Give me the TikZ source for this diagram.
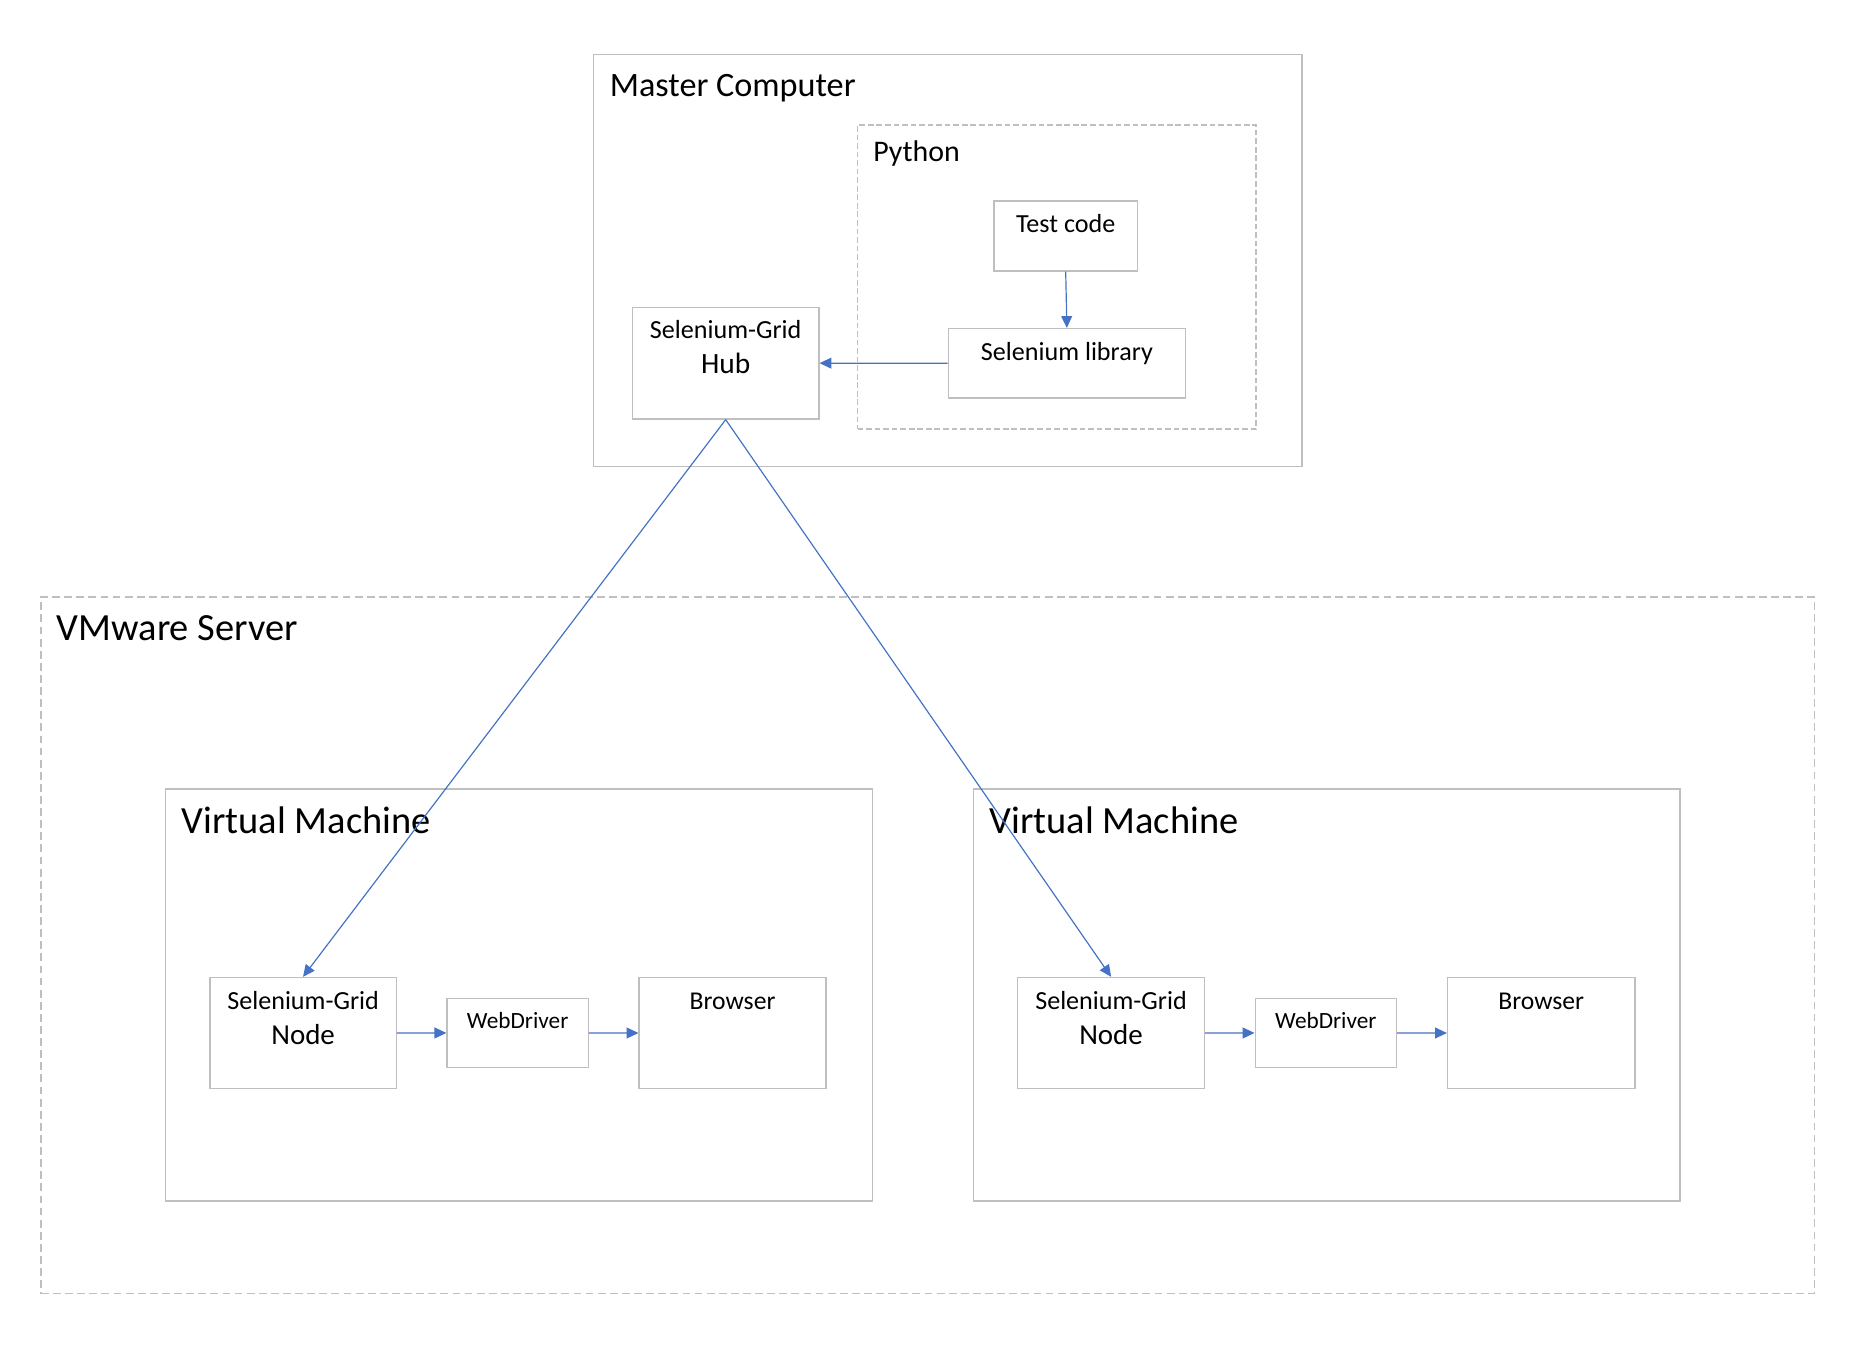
\documentclass[tikz,border=0pt]{standalone}
\usepackage{fontspec}
\setmainfont{Carlito}
\usetikzlibrary{arrows.meta,fit}
\definecolor{boxgray}{HTML}{BFBFBF}
\definecolor{linkblue}{HTML}{4472C4}
\newcommand\fsz[1]{\fontsize{#1pt}{#1pt}\selectfont}
\begin{document}
\begin{tikzpicture}[x=0.5pt,y=-0.5pt,
  frame/.style={draw=boxgray, line width=0.6pt, inner sep=0pt},
  dframe/.style={frame, dash pattern=on 3.3pt off 1.8pt},
  pframe/.style={frame, dash pattern=on 2.4pt off 1.2pt},
  link/.style={draw=linkblue, line width=0.5pt, -{Triangle[length=5pt,width=4.6pt]}},
  title/.style={anchor=base west, inner sep=0pt},
  lbl/.style={anchor=base, inner sep=0pt}]
\useasboundingbox (0,0) rectangle (1569,1135);
% containers
\node[frame, fit={(500,46)(1097,393)}] (master) {};
\node[pframe, fit={(722.6,105.3)(1058.5,361.4)}] (python) {};
\node[dframe, fit={(34.5,503.2)(1529,1090)}] (vmware) {};
\node[frame, fit={(139.6,664.7)(735,1012)}] (vm1) {};
\node[frame, fit={(820.5,664.7)(1415.8,1012)}] (vm2) {};
% titles
\node[title, font=\fsz{14.4}] (tmaster) at (513.5,80.9) {Master Computer};
\node[title, font=\fsz{12.6}] (tpython) at (735.5,136.2) {Python};
\node[title, font=\fsz{16.2}] (tvmware) at (47.5,539.7) {VMware Server};
\node[title, font=\fsz{16.2}] (tvm1) at (152.8,702.6) {Virtual Machine};
\node[title, font=\fsz{16.2}] (tvm2) at (833.5,702.6) {Virtual Machine};
% master boxes
\node[frame, fit={(837.5,169.3)(958.5,228.3)}] (testcode) {};
\node[frame, fit={(799,277)(999,335.3)}] (sellib) {};
\node[frame, fit={(533,259)(690,353)}] (hub) {};
\node[lbl, font=\fsz{11}] (ttestcode) at (898,196) {Test code};
\node[lbl, font=\fsz{11}] (tsellib) at (899,303.9) {Selenium library};
\node[lbl, font=\fsz{11}] (thub1) at (611.5,285.3) {Selenium-Grid};
\node[lbl, font=\fsz{12.4}] (thub2) at (611.5,315.1) {Hub};
% VM 1
\node[frame, fit={(176.8,823.7)(333.9,917.2)}] (node1) {};
\node[frame, fit={(376.7,841.3)(495.7,899.5)}] (wd1) {};
\node[frame, fit={(538.6,823.7)(695.9,917.2)}] (br1) {};
\node[lbl, font=\fsz{11}] (tnode1a) at (255.4,850.3) {Selenium-Grid};
\node[lbl, font=\fsz{12.2}] (tnode1b) at (255.4,880.4) {Node};
\node[lbl, font=\fsz{9.8}] (twd1) at (436.2,866.3) {WebDriver};
\node[lbl, font=\fsz{10.8}] (tbr1) at (617.3,850.3) {Browser};
% VM 2
\node[frame, fit={(857.6,823.7)(1014.9,917.2)}] (node2) {};
\node[frame, fit={(1057.7,841.3)(1176.7,899.5)}] (wd2) {};
\node[frame, fit={(1219.8,823.7)(1377.6,917.2)}] (br2) {};
\node[lbl, font=\fsz{11}] (tnode2a) at (936.2,850.3) {Selenium-Grid};
\node[lbl, font=\fsz{12.2}] (tnode2b) at (936.2,880.4) {Node};
\node[lbl, font=\fsz{9.8}] (twd2) at (1117.2,866.3) {WebDriver};
\node[lbl, font=\fsz{10.8}] (tbr2) at (1298.7,850.3) {Browser};
% connectors
\draw[link] (testcode.south) -- (sellib.north);
\draw[link] (sellib.west) -- (hub.east);
\draw[link] (hub.south) -- (node1.north);
\draw[link] (hub.south) -- (node2.north);
\draw[link] (node1.east) -- (wd1.west);
\draw[link] (wd1.east) -- (br1.west);
\draw[link] (node2.east) -- (wd2.west);
\draw[link] (wd2.east) -- (br2.west);
\end{tikzpicture}
\end{document}
